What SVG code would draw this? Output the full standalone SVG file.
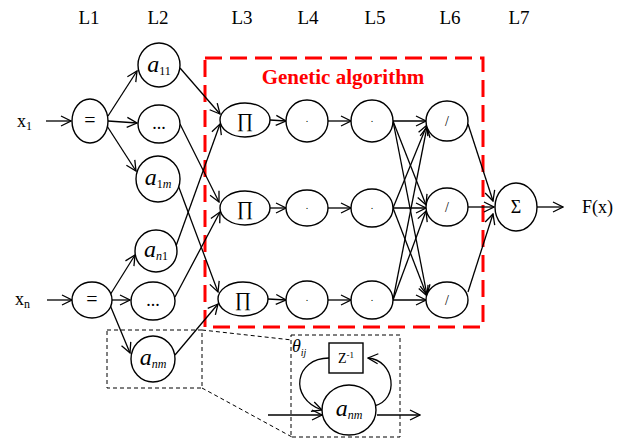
<svg xmlns="http://www.w3.org/2000/svg" width="633" height="438" viewBox="0 0 633 438">
<defs>
<marker id="ar" viewBox="0 0 12 12" markerWidth="12" markerHeight="12" refX="11" refY="6" orient="auto" markerUnits="userSpaceOnUse">
<path d="M1,1 L11,6 L1,11" fill="none" stroke="#000" stroke-width="1.3"/>
</marker>
<style>
.n{fill:#fff;stroke:#000;stroke-width:1.4}
.t{font-family:"Liberation Serif","Times New Roman",serif;fill:#000}
.c{stroke:#000;stroke-width:1.3;fill:none;marker-end:url(#ar)}
.d{stroke:#000;stroke-width:1;fill:none;stroke-dasharray:4 3}
.ga{font-family:"Liberation Serif","Times New Roman",serif;font-weight:bold;fill:#f00}
</style>
</defs>
<rect width="633" height="438" fill="#fff"/>
<g id="layer-labels" class="t" font-size="19" text-anchor="middle">
<text x="89" y="24">L1</text><text x="158" y="24">L2</text><text x="242" y="24">L3</text><text x="308" y="24">L4</text><text x="375" y="24">L5</text><text x="450" y="24">L6</text><text x="519" y="24">L7</text>
</g>
<g id="ga-box">
<rect x="205" y="58" width="278" height="269" fill="none" stroke="#f00" stroke-width="3" stroke-dasharray="17 8"/>
<text class="ga" x="343" y="84" text-anchor="middle" font-size="21">Genetic algorithm</text>
</g>
<g id="connectors">
<line class="c" x1="46" y1="121" x2="71" y2="121"/>
<line class="c" x1="47" y1="300" x2="72" y2="300"/>
<line class="c" x1="108" y1="116" x2="137" y2="71"/>
<line class="c" x1="108" y1="121" x2="137" y2="123"/>
<line class="c" x1="107" y1="126" x2="136" y2="171"/>
<line class="c" x1="110" y1="295" x2="135" y2="255"/>
<line class="c" x1="112" y1="300" x2="130" y2="300"/>
<line class="c" x1="110" y1="305" x2="130" y2="353"/>
<line class="c" x1="180" y1="68" x2="220" y2="114"/>
<line class="c" x1="180" y1="124" x2="219" y2="202"/>
<line class="c" x1="178" y1="185" x2="218" y2="292"/>
<line class="c" x1="176" y1="246" x2="220" y2="124"/>
<line class="c" x1="175" y1="297" x2="220" y2="212"/>
<line class="c" x1="175" y1="355" x2="218" y2="304"/>
<line class="c" x1="270" y1="120" x2="286" y2="121"/>
<line class="c" x1="270" y1="208" x2="286" y2="208"/>
<line class="c" x1="268" y1="299" x2="286" y2="300"/>
<line class="c" x1="328" y1="121" x2="351" y2="121"/>
<line class="c" x1="328" y1="208" x2="351" y2="208"/>
<line class="c" x1="328" y1="300" x2="351" y2="300"/>
<line class="c" x1="393" y1="121" x2="426" y2="121"/>
<line class="c" x1="393" y1="121" x2="426" y2="205"/>
<line class="c" x1="393" y1="121" x2="427" y2="295"/>
<line class="c" x1="393" y1="208" x2="427" y2="125"/>
<line class="c" x1="393" y1="208" x2="426" y2="208"/>
<line class="c" x1="393" y1="208" x2="427" y2="296"/>
<line class="c" x1="393" y1="300" x2="427" y2="127"/>
<line class="c" x1="393" y1="300" x2="426" y2="211"/>
<line class="c" x1="393" y1="300" x2="426" y2="300"/>
<line class="c" x1="468" y1="124" x2="493" y2="201"/>
<line class="c" x1="468" y1="207" x2="494" y2="207"/>
<line class="c" x1="468" y1="292" x2="493" y2="214"/>
<line class="c" x1="537" y1="207" x2="563" y2="207"/>
<line class="d" x1="202" y1="330" x2="292" y2="340"/>
<line class="d" x1="202" y1="388" x2="292" y2="437"/>
<line class="c" x1="268" y1="415" x2="322" y2="415"/>
<line class="c" x1="377" y1="415" x2="420" y2="415"/>
<path class="c" d="M329,358 C295,358 288,398 322,410"/>
<path class="c" d="M374,406 C400,400 395,360 368,358"/>
</g>
<g id="x1"><text class="t" x="17" y="127" font-size="18">x<tspan font-size="12" dy="3">1</tspan></text></g>
<g id="xn"><text class="t" x="15" y="305" font-size="18">x<tspan font-size="12" dy="3">n</tspan></text></g>
<g id="eq1"><ellipse class="n" cx="90" cy="121" rx="18" ry="22"/><text class="t" x="90" y="127" font-size="20" text-anchor="middle">=</text></g>
<g id="eq2"><ellipse class="n" cx="92" cy="300" rx="20" ry="18"/><text class="t" x="92" y="306" font-size="20" text-anchor="middle">=</text></g>
<g id="a11"><ellipse class="n" cx="159" cy="65" rx="21" ry="22"/><text class="t" x="159" y="72" font-size="24" text-anchor="middle"><tspan font-style="italic">a</tspan><tspan font-size="12" dy="3">11</tspan></text></g>
<g id="dots1"><ellipse class="n" cx="159" cy="124" rx="21" ry="19"/><text class="t" x="159" y="129" font-size="18" text-anchor="middle">...</text></g>
<g id="a1m"><ellipse class="n" cx="158" cy="179" rx="22" ry="23"/><text class="t" x="158" y="185" font-size="24" text-anchor="middle"><tspan font-style="italic">a</tspan><tspan font-size="12" dy="3">1<tspan font-style="italic">m</tspan></tspan></text></g>
<g id="an1"><ellipse class="n" cx="156" cy="251" rx="21" ry="21"/><text class="t" x="156" y="257" font-size="24" text-anchor="middle"><tspan font-style="italic">a</tspan><tspan font-size="12" dy="3"><tspan font-style="italic">n</tspan>1</tspan></text></g>
<g id="dots2"><ellipse class="n" cx="153" cy="301" rx="22" ry="19"/><text class="t" x="153" y="306" font-size="18" text-anchor="middle">...</text></g>
<g id="anm"><ellipse class="n" cx="153" cy="359" rx="22" ry="23"/><text class="t" x="153" y="365" font-size="24" text-anchor="middle"><tspan font-style="italic">a</tspan><tspan font-size="12" dy="3" font-style="italic">nm</tspan></text></g>
<g id="zoom-box"><rect class="d" x="107" y="330" width="95" height="58"/></g>
<g id="p1"><ellipse class="n" cx="245" cy="120" rx="25" ry="17"/><text class="t" x="245" y="127" font-size="20" text-anchor="middle">∏</text></g>
<g id="p2"><ellipse class="n" cx="245" cy="208" rx="25" ry="17"/><text class="t" x="245" y="215" font-size="20" text-anchor="middle">∏</text></g>
<g id="p3"><ellipse class="n" cx="243" cy="299" rx="25" ry="17"/><text class="t" x="243" y="306" font-size="20" text-anchor="middle">∏</text></g>
<g id="l4a"><ellipse class="n" cx="307" cy="121" rx="21" ry="21"/><text class="t" x="307" y="122" font-size="10" text-anchor="middle" fill="#555">.</text></g>
<g id="l4b"><ellipse class="n" cx="307" cy="208" rx="21" ry="18"/><text class="t" x="307" y="209" font-size="10" text-anchor="middle" fill="#555">.</text></g>
<g id="l4c"><ellipse class="n" cx="307" cy="300" rx="21" ry="19"/><text class="t" x="307" y="301" font-size="10" text-anchor="middle" fill="#555">.</text></g>
<g id="l5a"><ellipse class="n" cx="372" cy="121" rx="21" ry="21"/><text class="t" x="372" y="122" font-size="10" text-anchor="middle" fill="#555">.</text></g>
<g id="l5b"><ellipse class="n" cx="372" cy="208" rx="21" ry="19"/><text class="t" x="372" y="209" font-size="10" text-anchor="middle" fill="#555">.</text></g>
<g id="l5c"><ellipse class="n" cx="372" cy="300" rx="21" ry="19"/><text class="t" x="372" y="301" font-size="10" text-anchor="middle" fill="#555">.</text></g>
<g id="l6a"><ellipse class="n" cx="447" cy="121" rx="21" ry="20"/><text class="t" x="447" y="126" font-size="14" text-anchor="middle" fill="#666">/</text></g>
<g id="l6b"><ellipse class="n" cx="447" cy="207" rx="21" ry="19"/><text class="t" x="447" y="212" font-size="14" text-anchor="middle" fill="#666">/</text></g>
<g id="l6c"><ellipse class="n" cx="447" cy="300" rx="21" ry="18"/><text class="t" x="447" y="305" font-size="14" text-anchor="middle" fill="#666">/</text></g>
<g id="sigma"><ellipse class="n" cx="516" cy="207" rx="21" ry="24"/><text class="t" x="516" y="213" font-size="18" text-anchor="middle">Σ</text></g>
<g id="fx"><text class="t" x="582" y="213" font-size="18">F(x)</text></g>
<g id="detail">
<rect class="d" x="291" y="335" width="109" height="102"/>
<text class="t" x="292" y="352" font-size="18" font-style="italic">θ<tspan font-size="10" dy="4">ij</tspan></text>
<rect x="329" y="343" width="34" height="30" fill="#fff" stroke="#000" stroke-width="1.4"/>
<text class="t" x="346" y="363" font-size="14" text-anchor="middle">Z<tspan font-size="9" dy="-5">-1</tspan></text>
<ellipse class="n" cx="349" cy="410" rx="27" ry="25"/>
<text class="t" x="349" y="416" font-size="24" text-anchor="middle"><tspan font-style="italic">a</tspan><tspan font-size="12" dy="3" font-style="italic">nm</tspan></text>
</g>
</svg>
